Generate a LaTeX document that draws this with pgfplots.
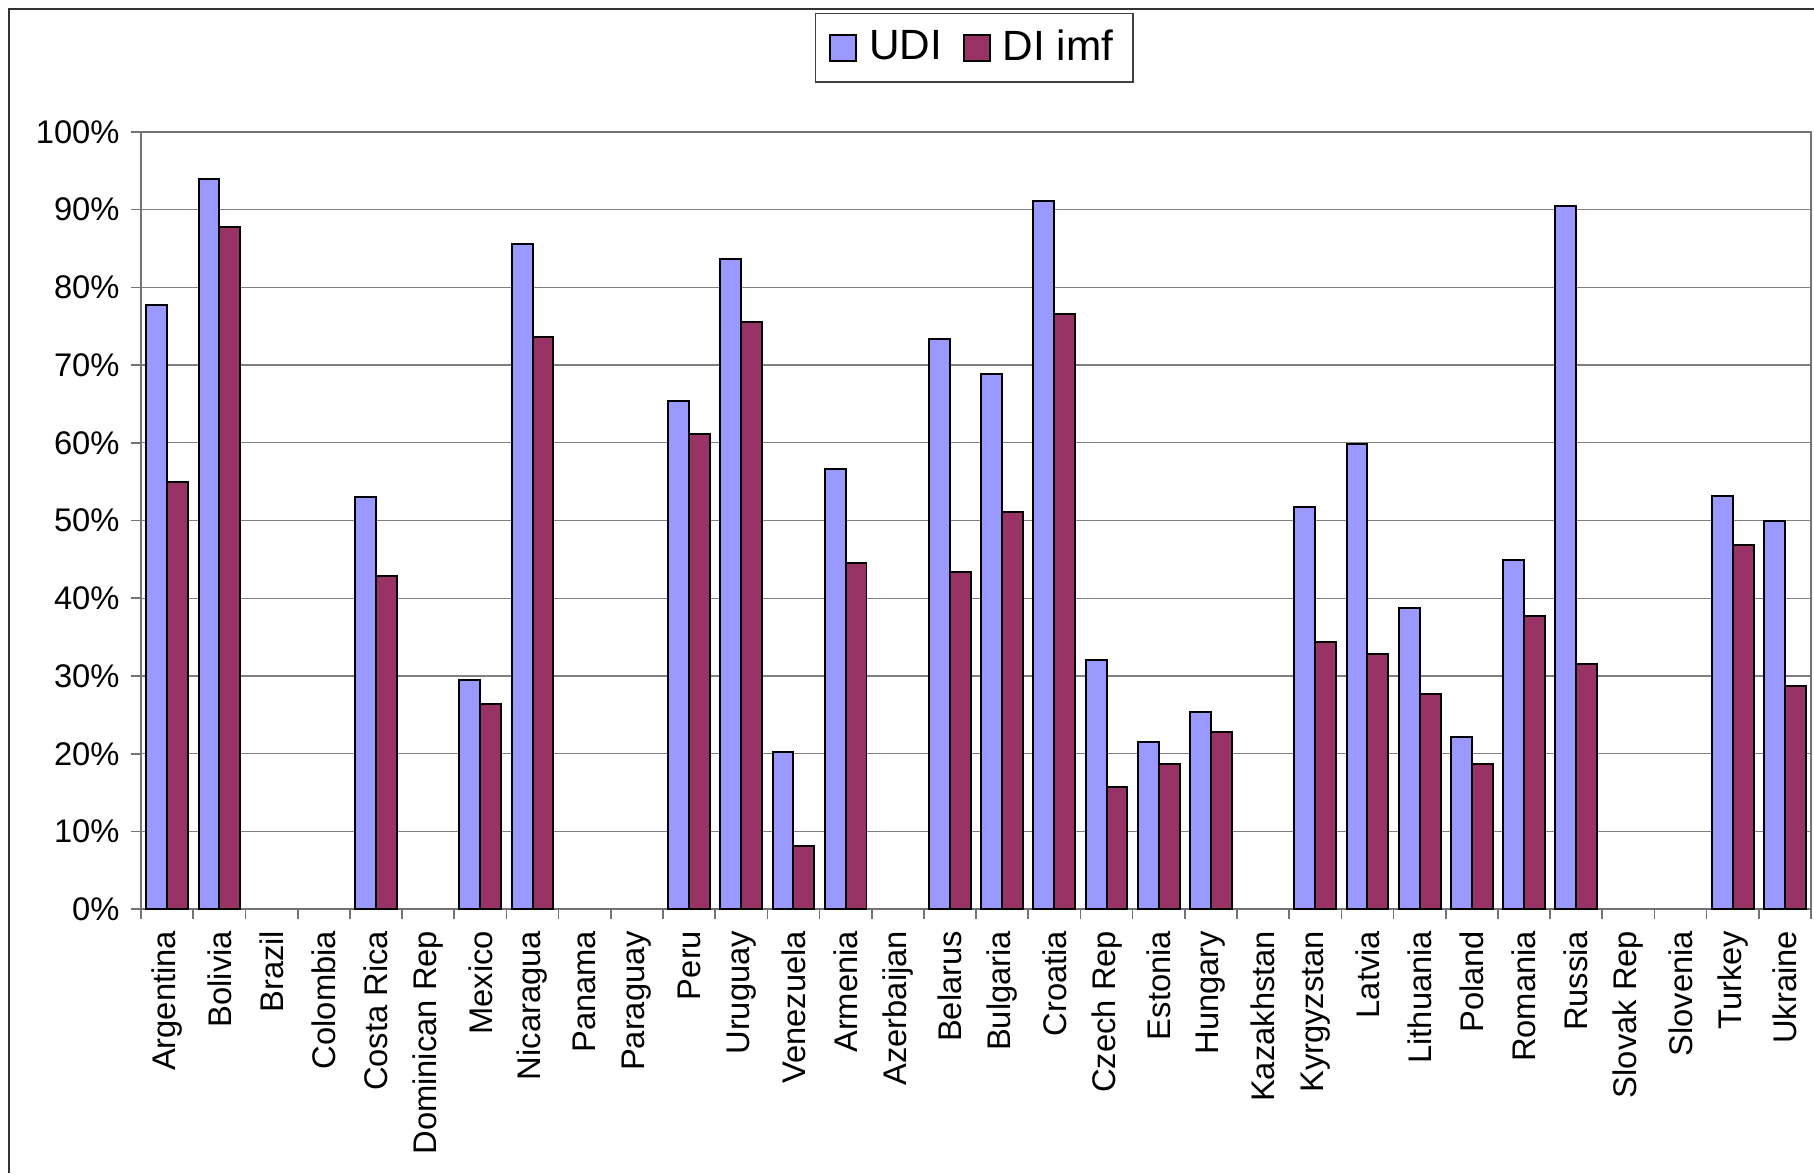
\documentclass[border=0pt]{standalone}
\usepackage{pgfplots}
\usepackage{pgfplotstable}
\pgfplotsset{compat=1.18}
\usepackage{fontspec}
\setmainfont{Liberation Sans}

\definecolor{udiblue}{HTML}{9999FF}
\definecolor{diplum}{HTML}{993366}

% idx: category position; UDI and DI imf in percent
\pgfplotstableread{
idx UDI  DI
0   77.7 55.0
1   93.9 87.7
2   0    0
3   0    0
4   53.0 42.9
5   0    0
6   29.5 26.4
7   85.6 73.6
8   0    0
9   0    0
10  65.4 61.2
11  83.7 75.6
12  20.2 8.1
13  56.6 44.5
14  0    0
15  73.3 43.4
16  68.9 51.1
17  91.1 76.6
18  32.1 15.7
19  21.5 18.7
20  25.4 22.8
21  0    0
22  51.7 34.4
23  59.9 32.9
24  38.8 27.7
25  22.1 18.7
26  44.9 37.7
27  90.5 31.6
28  0    0
29  0    0
30  53.2 46.8
31  49.9 28.7
}\shares

\begin{document}
\begin{tikzpicture}
\path[use as bounding box] (0,0) rectangle (548.8pt,354.9pt);
% chart frame
\draw[black!80, line width=0.5pt] (2.8pt,0pt) -- (2.8pt,352.1pt) -- (560pt,352.1pt);
\begin{axis}[
  at={(42.7pt,79.8pt)}, anchor=south west,
  scale only axis,
  width=505.2pt, height=235.2pt,
  xmin=-0.5, xmax=31.5,
  ymin=0, ymax=100,
  axis line style={black!55, line width=0.5pt},
  tick align=outside,
  xtick pos=bottom, ytick pos=left,
  major tick length=3pt, minor tick length=3pt,
  xtick={0,...,31},
  xticklabels={Argentina,Bolivia,Brazil,Colombia,Costa Rica,Dominican Rep,Mexico,Nicaragua,Panama,Paraguay,Peru,Uruguay,Venezuela,Armenia,Azerbaijan,Belarus,Bulgaria,Croatia,Czech Rep,Estonia,Hungary,Kazakhstan,Kyrgyzstan,Latvia,Lithuania,Poland,Romania,Russia,Slovak Rep,Slovenia,Turkey,Ukraine},
  minor xtick={-0.5,0.5,...,31.5},
  major x tick style={draw=none},
  minor x tick style={black!55, line width=0.5pt},
  ytick={0,10,...,100},
  yticklabels={0\%,10\%,20\%,30\%,40\%,50\%,60\%,70\%,80\%,90\%,100\%},
  y tick style={black!55, line width=0.5pt},
  x tick label style={rotate=90, anchor=east, font=\fontsize{9.9}{11}\selectfont},
  y tick label style={font=\fontsize{9.9}{11}\selectfont},
  ymajorgrids,
  major grid style={black!50, line width=0.4pt},
  restrict y to domain=0.01:100,
  legend columns=2,
  legend style={at={(0.499,1.108)}, anchor=center, draw=black!75, line width=0.5pt,
    font=\fontsize{12.8}{15}\selectfont, inner xsep=4pt, inner ysep=3pt,
    /tikz/every odd column/.append style={column sep=1.6pt},
    /tikz/every even column/.append style={column sep=4.2pt}},
]
\addplot[ybar, bar width=0.4, bar shift=-0.2, fill=udiblue, draw=black, line width=0.6pt,
  legend image code/.code={\draw[fill=udiblue, draw=black, line width=0.6pt] (0pt,-4pt) rectangle (8pt,4pt);}]
  table[x=idx, y=UDI] {\shares};
\addlegendentry{UDI}
\addplot[ybar, bar width=0.4, bar shift=0.2, fill=diplum, draw=black, line width=0.6pt,
  legend image code/.code={\draw[fill=diplum, draw=black, line width=0.6pt] (0pt,-4pt) rectangle (8pt,4pt);}]
  table[x=idx, y=DI] {\shares};
\addlegendentry{DI imf}
\end{axis}
\end{tikzpicture}
\end{document}
